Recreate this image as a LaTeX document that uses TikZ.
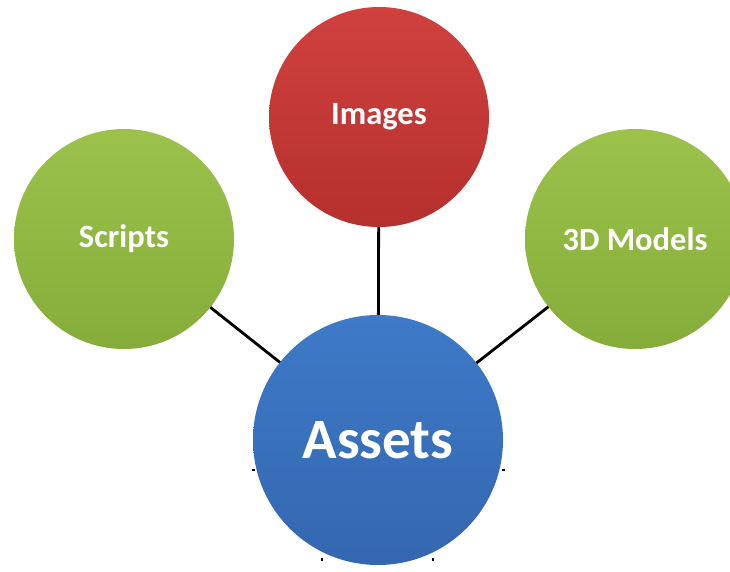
\documentclass[tikz,border=0pt]{standalone}
\usepackage{fontspec}
\setmainfont{Carlito}
\begin{document}
\begin{tikzpicture}[x=1pt,y=-1pt,
  bubble/.style={circle,inner sep=0pt,text=white,font=\bfseries\fontsize{32.5}{32.5}\selectfont},
  greenb/.style={bubble,top color=green1,bottom color=green2,minimum size=220pt},
  redb/.style={bubble,top color=red1,bottom color=red2,minimum size=220pt},
  blueb/.style={bubble,top color=blue1,bottom color=blue2,minimum size=250pt,font=\bfseries\fontsize{57}{57}\selectfont},
  link/.style={line width=2.8pt,black},
  tickmark/.style={line width=2pt,black}]
\definecolor{green1}{HTML}{9CC24C}
\definecolor{green2}{HTML}{86AD3A}
\definecolor{red1}{HTML}{D0413E}
\definecolor{red2}{HTML}{B5302E}
\definecolor{blue1}{HTML}{3E7AC8}
\definecolor{blue2}{HTML}{3467B0}
\useasboundingbox (0,0) rectangle (730,572);
\fill[white] (0,0) rectangle (730,572);
\coordinate (ci) at (379,117);
\coordinate (cs) at (124,239);
\coordinate (cm) at (635,239);
\coordinate (ca) at (378,440);
\draw[link] (ci) -- (ca);
\draw[link] (cs) -- (ca);
\draw[link] (cm) -- (ca);
\coordinate (t1) at (255,470);
\coordinate (t2) at (502,470);
\coordinate (t3) at (322,558);
\coordinate (t4) at (433,558);
\draw[tickmark] (t1) -- ++(-3,0);
\draw[tickmark] (t2) -- ++(3,0);
\draw[tickmark] (t3) -- ++(0,3);
\draw[tickmark] (t4) -- ++(0,3);
\node[redb] (images) at (ci) {Images};
\node[greenb] (scripts) at (cs) {Scripts};
\node[greenb] (models) at (cm) {3D Models};
\node[blueb] (assets) at (ca) {Assets};
\end{tikzpicture}
\end{document}
